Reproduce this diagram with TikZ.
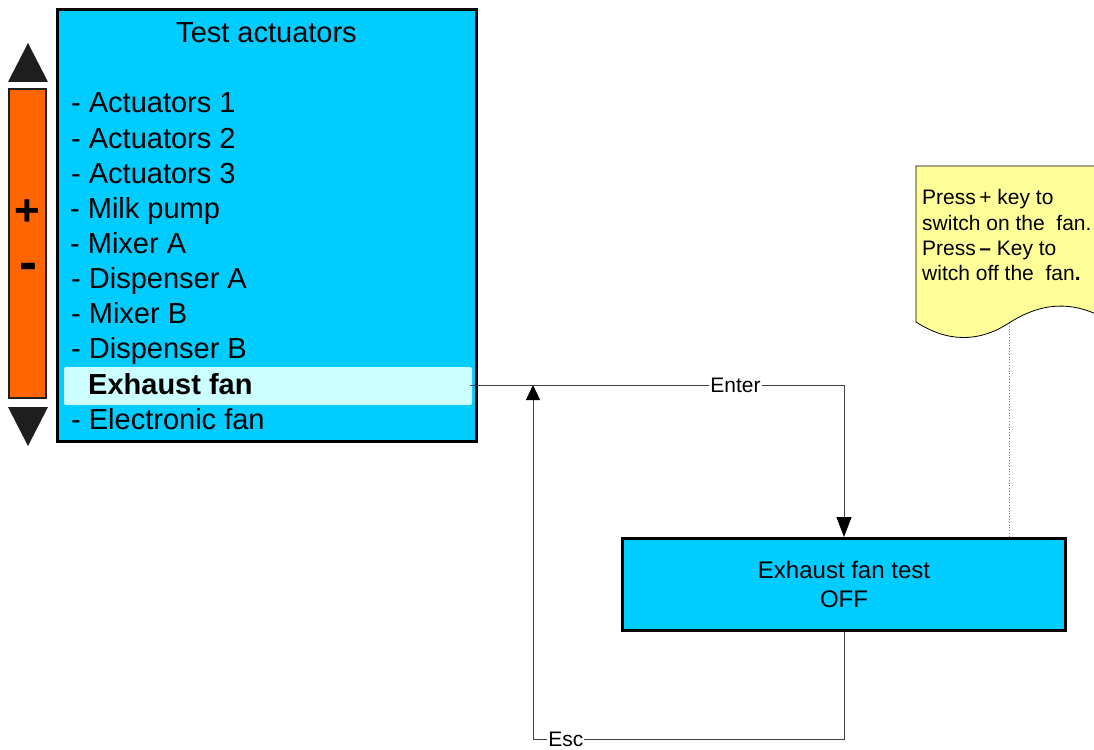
\documentclass[tikz,border=0pt]{standalone}
\usepackage{fontspec}
\setmainfont{Liberation Sans}
\usetikzlibrary{arrows.meta}
\definecolor{boxcyan}{HTML}{00CCFF}
\definecolor{hilite}{HTML}{CCFFFF}
\definecolor{barorange}{HTML}{FF6600}
\definecolor{noteyellow}{HTML}{FFFF99}
\definecolor{tridark}{HTML}{1E1E1E}
\definecolor{linegray}{HTML}{404040}
\tikzset{
  panel/.style={draw=black, line width=3pt, fill=boxcyan, inner sep=0pt},
  item/.style={anchor=base west, inner sep=0pt, font=\fontsize{29}{35}\selectfont},
  conn/.style={draw=linegray, line width=1pt},
  arrdown/.style={-{Triangle[length=20pt,width=15pt,color=black]}},
  arrup/.style={-{Triangle[length=15pt,width=14pt,color=black]}},
  lbl/.style={fill=white, inner sep=1pt, font=\fontsize{21}{25}\selectfont},
  notetext/.style={anchor=base west, inner sep=0pt, font=\fontsize{21}{25}\selectfont},
}
\begin{document}
\begin{tikzpicture}[x=1pt,y=-1pt]
\useasboundingbox (0,0) rectangle (1094,749);
% main panel
\node[panel, minimum width=419pt, minimum height=432pt] (menu) at (267,225.5) {};
\fill[hilite, rounded corners=2pt] (64,367) rectangle (472,405);
\node[anchor=base, inner sep=0pt, font=\fontsize{29}{35}\selectfont] (title) at (266.5,43) {Test actuators};
\node[item] (i1) at (71,113) {- Actuators 1};
\node[item] (i2) at (71,148) {- Actuators 2};
\node[item] (i3) at (71,183) {- Actuators 3};
\node[item] (i4) at (70,218) {- Milk pump};
\node[item] (i5) at (70,253) {- Mixer A};
\node[item] (i6) at (71,288) {- Dispenser A};
\node[item] (i7) at (71,323) {- Mixer B};
\node[item] (i8) at (71,358) {- Dispenser B};
\node[item, font=\fontsize{29}{35}\selectfont\bfseries] (i9) at (88,394) {Exhaust fan};
\node[item] (i10) at (71,429) {- Electronic fan};
\coordinate (exit) at (470,385);
% scroll bar
\fill[tridark] (8,82) -- (28,43) -- (48,82) -- cycle;
\node[draw=tridark, line width=2.5pt, fill=barorange, minimum width=37pt, minimum height=309pt, inner sep=0pt] (bar) at (27.5,243.5) {};
\fill[tridark] (8,407) -- (28,446) -- (48,407) -- cycle;
\node[font=\fontsize{44}{44}\selectfont\bfseries, inner sep=0pt] (plus) at (27,212.5) {+};
\node[font=\fontsize{54}{54}\selectfont\bfseries, inner sep=0pt, anchor=center] (minus) at (28,271.5) {-};
% test box
\node[panel, minimum width=443pt, minimum height=92pt, align=center, font=\fontsize{24}{29}\selectfont] (fan) at (844,584.5) {Exhaust fan test\\OFF};
% note
\draw[line width=0.8pt, fill=noteyellow] (916,166) -- (1104,166) -- (1104,318)
  .. controls (1071,300) and (1040,303) .. (1009,323)
  .. controls (978,343) and (947,342) .. (916,322) -- cycle;
\coordinate (notebot) at (1009,323);
\node[notetext] (n1) at (922,204) {Press\,+ key to};
\node[notetext] (n2) at (922,230) {switch on the\ \ fan.};
\node[notetext] (n3) at (922,255) {Press\,\textbf{–} Key to};
\node[notetext] (n4) at (922,280) {witch off the\ \ fan\textbf{.}};
\draw[draw=gray, line width=0.8pt, dotted] (notebot) -- (notebot |- fan.north);
% connectors
\draw[conn, arrdown] (exit) -| (fan.north) node[lbl, pos=0.355] {Enter};
\coordinate (esctip) at (533,385);
\coordinate (escc) at (533,739);
\draw[conn, arrup] (fan.south) -- (fan.south |- escc) -- node[lbl, pos=0.894] {Esc} (escc) -- (esctip);
\end{tikzpicture}
\end{document}
